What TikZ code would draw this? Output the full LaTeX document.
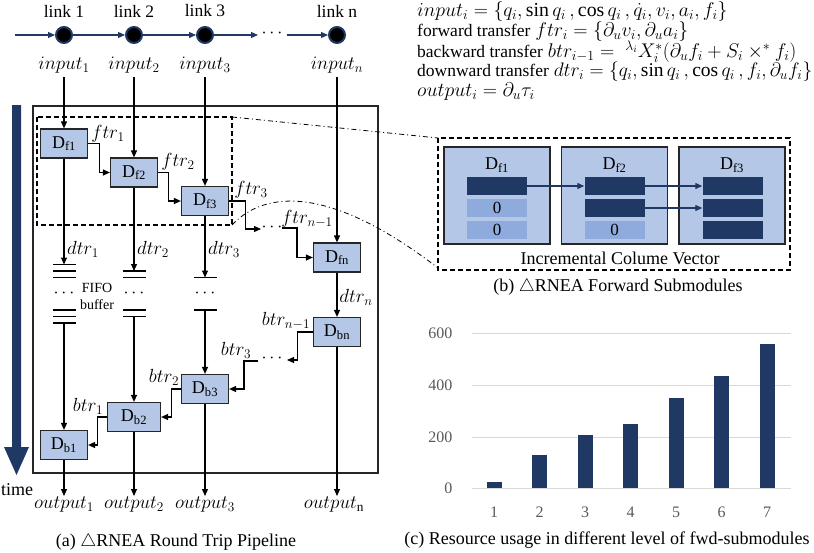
\RequirePackage{fix-cm}
\documentclass[tikz,border=0pt]{standalone}
\usepackage{fontspec}
\setmainfont{Liberation Serif}
\usetikzlibrary{arrows.meta}
\definecolor{navy}{HTML}{1F3864}
\definecolor{blkfill}{HTML}{B4C7E7}
\definecolor{zerob}{HTML}{8FAADC}
\definecolor{gridc}{HTML}{D9D9D9}
\definecolor{txtg}{HTML}{595959}
\definecolor{edgec}{HTML}{262626}
\newcommand{\eqtxt}[2][17.5]{{\fontsize{#1}{20}\selectfont #2}}
\begin{document}
\begin{tikzpicture}[x=1pt,y=-1pt,
  every node/.style={font=\fontsize{18}{21}\selectfont},
  mathlab/.style={inner sep=1pt, font=\fontsize{19}{22}\selectfont},
  blockbox/.style={draw=edgec, fill=blkfill, line width=1.2pt, minimum width=47pt, minimum height=29pt, inner sep=0pt, font=\fontsize{18}{20}\selectfont},
  bigbox/.style={draw=edgec, fill=blkfill, line width=1.2pt, minimum width=106pt, minimum height=97pt, inner sep=0pt},
  vbar/.style={minimum width=60pt, minimum height=18pt, inner sep=0pt, fill=navy},
  zbar/.style={minimum width=60pt, minimum height=18pt, inner sep=0pt, fill=zerob, font=\fontsize{17}{20}\selectfont},
  arr/.style={line width=1.1pt, -{Triangle[length=7pt,width=6pt]}},
  narr/.style={navy, line width=1.2pt, -{Triangle[length=7pt,width=6pt]}},
  fifo/.style={line width=1.4pt},
  linkdot/.style={circle, fill=black, draw=navy, line width=2pt, minimum size=16pt, inner sep=0pt},
  ddash/.style={line width=1.2pt, dash pattern=on 5pt off 3pt},
  dd/.style={line width=0.8pt, dash pattern=on 5pt off 3pt on 1pt off 3pt},
  eqline/.style={anchor=west, inner sep=0pt, font=\fontsize{#1}{21}\selectfont},
  eqline/.default=19.8,
]
\useasboundingbox (0,0) rectangle (814,552);

% ---------- links ----------
\coordinate (s0) at (15,35);
\node[linkdot] (L1) at (64,35) {};
\node[linkdot] (L2) at (134,35) {};
\node[linkdot] (L3) at (205,35) {};
\node[linkdot] (Ln) at (337,35) {};
\node[font=\fontsize{17.5}{20}\selectfont] (t1) at (64,11) {link 1};
\node[font=\fontsize{17.5}{20}\selectfont] (t2) at (134,11) {link 2};
\node[font=\fontsize{17.5}{20}\selectfont] (t3) at (205,11) {link 3};
\node[font=\fontsize{17.5}{20}\selectfont] (tn) at (337,11) {link n};
\coordinate (ld1) at (258,35);
\node (ldots) at (272,33) {$\cdots$};
\coordinate (ld2) at (287,35);
\draw[narr] (s0) -- (L1);
\draw[narr] (L1) -- (L2);
\draw[narr] (L2) -- (L3);
\draw[narr] (L3) -- (ld1);
\draw[narr] (ld2) -- (Ln);

\node[mathlab] (in1) at (64,65) {$input_1$};
\node[mathlab] (in2) at (134,65) {$input_2$};
\node[mathlab] (in3) at (205,65) {$input_3$};
\node[mathlab] (inn) at (337,65) {$input_n$};

% ---------- frames ----------
\draw[line width=1.2pt, edgec] (33,106) rectangle (378,473);
\draw[ddash] (37,117) rectangle (232,225);
\fill[navy] (12,105) -- (21,105) -- (21,447) -- (29,447) -- (16.5,475) -- (4,447) -- (12,447) -- cycle;
\node (time) at (17,490) {time};

% ---------- forward blocks ----------
\node[blockbox] (Df1) at (64,143.5) {D\textsubscript{f1}};
\node[blockbox] (Df2) at (134,172.5) {D\textsubscript{f2}};
\node[blockbox] (Df3) at (205,201) {D\textsubscript{f3}};
\node[blockbox] (Dfn) at (337,257.5) {D\textsubscript{fn}};

\draw[arr, shorten <=3pt] (in1.south) -- (Df1.north);
\draw[arr, shorten <=3pt] (in2.south) -- (Df2.north);
\draw[arr, shorten <=3pt] (in3.south) -- (Df3.north);
\draw[arr, shorten <=3pt] (inn.south) -- (Dfn.north);

\draw[arr] (Df1.east) -- ++(11,0) |- (Df2.west);
\draw[arr] (Df2.east) -- ++(10,0) |- (Df3.west);
\coordinate (f3e) at (261,229);
\draw[arr] (Df3.east) -- ++(16,0) |- (f3e);
\node (fdots) at (272,227) {$\cdots$};
\coordinate (fns) at (282,228);
\draw[arr] (fns) -- ++(15,0) |- (Dfn.west);

\node[mathlab] (ftr1) at (108,134) {$ftr_1$};
\node[mathlab] (ftr2) at (178,162) {$ftr_2$};
\node[mathlab] (ftr3) at (251,190) {$ftr_3$};
\node[mathlab] (ftrn) at (307,219) {$ftr_{n-1}$};

% ---------- FIFO buffers ----------
\coordinate (b1t) at (64,264.5);
\coordinate (b2t) at (134,271);
\coordinate (b3t) at (205,277.5);
\draw[arr] (Df1.south) -- (b1t);
\draw[arr] (Df2.south) -- (b2t);
\draw[arr] (Df3.south) -- (b3t);
\foreach \yy in {264.5,271,277.5} \draw[fifo] (53,\yy) -- (76,\yy);
\foreach \yy in {271,277.5} \draw[fifo] (123,\yy) -- (146,\yy);
\foreach \yy in {277.5} \draw[fifo] (194,\yy) -- (217,\yy);
\node (fd1) at (64,293) {$\cdots$};
\node (fd2) at (134,293) {$\cdots$};
\node (fd3) at (205,293) {$\cdots$};
\node[align=center, font=\fontsize{14}{17}\selectfont] (fifolab) at (97,296) {FIFO\\buffer};
\foreach \yy in {310,316.5,323} \draw[fifo] (53,\yy) -- (76,\yy);
\foreach \yy in {310,316.5} \draw[fifo] (123,\yy) -- (146,\yy);
\foreach \yy in {310} \draw[fifo] (194,\yy) -- (217,\yy);
\coordinate (b1b) at (64,323);
\coordinate (b2b) at (134,316.5);
\coordinate (b3b) at (205,310);

\node[mathlab] (dtr1) at (83,249) {$dtr_1$};
\node[mathlab] (dtr2) at (153,249) {$dtr_2$};
\node[mathlab] (dtr3) at (224,249) {$dtr_3$};
\node[mathlab] (dtrn) at (356,297) {$dtr_n$};

% ---------- backward blocks ----------
\node[blockbox] (Dbn) at (337,332) {D\textsubscript{bn}};
\node[blockbox] (Db3) at (205,389) {D\textsubscript{b3}};
\node[blockbox, minimum width=53pt] (Db2) at (134,417) {D\textsubscript{b2}};
\node[blockbox] (Db1) at (64,445) {D\textsubscript{b1}};

\draw[arr] (Dfn.south) -- (Dbn.north);
\draw[arr] (b1b) -- (Db1.north);
\draw[arr] (b2b) -- (Db2.north);
\draw[arr] (b3b) -- (Db3.north);

\coordinate (bne) at (287,360);
\draw[arr] (Dbn.west) -- ++(-15,0) |- (bne);
\node (bdots) at (272,358) {$\cdots$};
\coordinate (b3s) at (258,361);
\draw[arr] (b3s) -- ++(-14,0) |- (Db3.east);
\draw[arr] (Db3.west) -- ++(-9,0) |- (Db2.east);
\draw[arr] (Db2.west) -- ++(-9,0) |- (Db1.east);

\node[mathlab] (btrn) at (286,321) {$btr_{n-1}$};
\node[mathlab] (btr3) at (236,350) {$btr_3$};
\node[mathlab] (btr2) at (164,377) {$btr_2$};
\node[mathlab] (btr1) at (88,406) {$btr_1$};

% ---------- outputs ----------
\node[mathlab, anchor=north] (o1) at (64,496) {$output_1$};
\node[mathlab, anchor=north] (o2) at (134,496) {$output_2$};
\node[mathlab, anchor=north] (o3) at (205,496) {$output_3$};
\node[mathlab, anchor=north] (on) at (334,496) {$output_{\mathrm{n}}$};
\draw[arr] (Db1.south) -- (Db1.south |- o1.north);
\draw[arr] (Db2.south) -- (Db2.south |- o2.north);
\draw[arr] (Db3.south) -- (Db3.south |- o3.north);
\draw[arr] (Dbn.south) -- (Dbn.south |- on.north);

\node (capa) at (176,542) {(a) $\triangle$RNEA Round Trip Pipeline};

% ---------- equations ----------
\node[eqline] (eq1) at (417,12) {$input_i = \{q_i, \sin q_i\,, \cos q_i\,, \dot{q}_i, v_i, a_i, f_i\}$};
\node[eqline] (eq2) at (417,32) {\eqtxt{forward transfer} $ftr_i = \{\partial_u v_i, \partial_u a_i\}$};
\node[eqline] (eq3) at (417,52) {\eqtxt{backward transfer} $btr_{i-1} = \;{}^{\lambda_i}X_i^*(\partial_u f_i + S_i \times^* f_i)$};
\node[eqline=19.5] (eq4) at (417,72) {\eqtxt{downward transfer} $dtr_i = \{q_i, \sin q_i\,, \cos q_i\,, f_i, \partial_u f_i\}$};
\node[eqline] (eq5) at (417,92) {$output_i = \partial_u \tau_i$};

% ---------- zoom connectors ----------
\draw[dd] (232,117) -- (438,138);
\draw[dd] (232,225) .. controls (265,190) and (330,185) .. (438,268);

% ---------- forward submodules ----------
\draw[ddash] (438,138) rectangle (790,270);
\node[bigbox] (R1) at (497,195.5) {};
\node[bigbox] (R2) at (614.5,195.5) {};
\node[bigbox] (R3) at (732,195.5) {};
\node[font=\fontsize{18}{20}\selectfont] (R1l) at (497,165) {D\textsubscript{f1}};
\node[font=\fontsize{18}{20}\selectfont] (R2l) at (614.5,165) {D\textsubscript{f2}};
\node[font=\fontsize{18}{20}\selectfont] (R3l) at (732,165) {D\textsubscript{f3}};
\node[vbar] (a1) at (497,186) {};
\node[zbar] (a2) at (497,208) {0};
\node[zbar] (a3) at (497,229.5) {0};
\node[vbar] (b1) at (614.5,186) {};
\node[vbar] (b2) at (614.5,208) {};
\node[zbar] (b3) at (614.5,229.5) {0};
\node[vbar] (c1) at (732.5,186) {};
\node[vbar] (c2) at (732.5,208) {};
\node[vbar] (c3) at (732.5,229.5) {};
\draw[narr] (a1.east) -- (b1.west);
\draw[narr] (b1.east) -- (c1.west);
\draw[narr] (b2.east) -- (c2.west);
\node (icv) at (620,258) {Incremental Colume Vector};
\node (capb) at (618,287) {(b) $\triangle$RNEA Forward Submodules};

% ---------- bar chart ----------
\foreach \yy/\vv in {333/600,385/400,437/200,488/0} {
  \draw[gridc, line width=1pt] (472,\yy) -- (791,\yy);
  \node[anchor=east, text=txtg, font=\fontsize{16}{20}\selectfont] (yl\vv) at (456,\yy) {\vv};
}
\foreach \i/\h in {1/23,2/127,3/204,4/246,5/346,6/431,7/554} {
  \pgfmathsetmacro{\xc}{494+45.5*(\i-1)}
  \pgfmathsetmacro{\yt}{488-\h*0.26}
  \fill[navy] (\xc-7.5,488) rectangle (\xc+7.5,\yt);
  \node[text=txtg, font=\fontsize{16}{20}\selectfont] (xl\i) at (\xc,512) {\i};
}
\node (capc) at (607,540) {(c) Resource usage in different level of fwd-submodules};
\end{tikzpicture}
\end{document}
